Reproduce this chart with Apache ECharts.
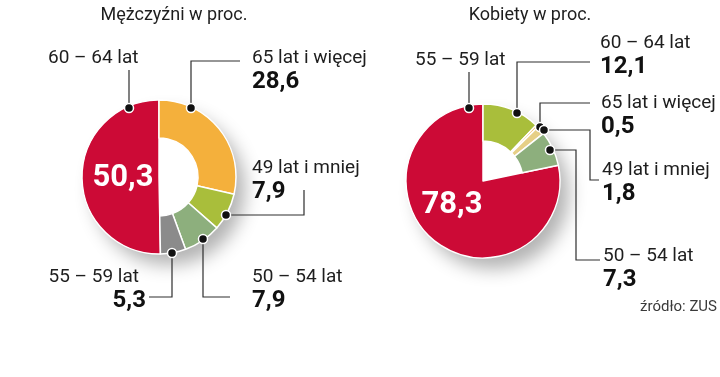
<!DOCTYPE html>
<html>
<head>
<meta charset="utf-8">
<script src="https://cdn.jsdelivr.net/npm/echarts@6/dist/echarts.min.js"></script>
<style>
html, body { margin: 0; padding: 0; background: #fff; }
#chart { width: 720px; height: 377px; }
</style>
</head>
<body>
<div id="chart"></div>
<script>
// dane
var categoriesMen = ['65 lat i więcej', '49 lat i mniej', '50 – 54 lat', '55 – 59 lat', '60 – 64 lat'];
var valuesMen = [28.6, 7.9, 7.9, 5.3, 50.3];
var colorsMen = ['#f4b03c', '#a9be3b', '#8daf7d', '#8b8b8b', '#cc0a36'];

var categoriesWomen = ['60 – 64 lat', '65 lat i więcej', '49 lat i mniej', '50 – 54 lat', '55 – 59 lat'];
var valuesWomen = [12.1, 0.5, 1.8, 7.3, 78.3];
var colorsWomen = ['#a9be3b', '#f4b03c', '#e6cf86', '#8daf7d', '#cc0a36'];

var titleMen = 'Mężczyźni w proc.';
var titleWomen = 'Kobiety w proc.';
var sourceText = 'źródło: ZUS';

// rozmieszczenie
var FONT = 'Roboto, sans-serif';
var R = 77;
var centerMen = [159, 177];
var centerWomen = [483, 181];
var bigIdx = 4;

var labelPosMen = [
    {x: 252, y: 47}, {x: 252, y: 157}, {x: 252, y: 266},
    {x: 146, y: 266, align: 'right'}, {x: 48, y: 47}
];
var guidesMen = [
    [[191, 108], [191, 61], [240, 61]],
    [[226, 215], [304, 215], [304, 190]],
    [[203, 239], [203, 297], [230, 297]],
    [[172, 253], [172, 297], [149, 297]],
    [[129, 108], [129, 70]]
];
var bigPosMen = [123, 178];

var labelPosWomen = [
    {x: 600, y: 32}, {x: 601, y: 92}, {x: 602, y: 159}, {x: 603, y: 245}, {x: 415, y: 49}
];
var guidesWomen = [
    [[517, 113], [517, 62], [590, 62]],
    [[540, 127], [540, 103], [590, 103]],
    [[544, 130], [590, 130], [590, 180], [599, 180]],
    [[550, 150], [576, 150], [576, 260], [600, 260]],
    [[469, 108], [469, 72]]
];
var bigPosWomen = [452, 205];

function fmt(v) {
    return v.toFixed(1).replace('.', ',');
}

function sliceData(names, values, colors, visible) {
    return names.map(function (n, i) {
        var on = visible(i);
        return {
            name: n,
            value: values[i],
            itemStyle: on
                ? {color: colors[i], borderColor: '#fff', borderWidth: 1.5}
                : {color: 'rgba(0,0,0,0)', borderWidth: 0},
            label: {show: true}
        };
    });
}

function ringSeries(names, values, colors, center, inner, labelPos) {
    return {
        type: 'pie',
        center: center,
        radius: [inner, R],
        startAngle: 90,
        avoidLabelOverlap: false,
        silent: true,
        data: sliceData(names, values, colors, function (i) { return i !== bigIdx; }),
        label: {
            show: true,
            position: 'outside',
            fontFamily: FONT,
            formatter: function (p) {
                var key = labelPos[p.dataIndex].align === 'right' ? 'nr' : 'n';
                if (p.dataIndex === bigIdx) return '{' + key + '|' + p.name + '}';
                return '{' + key + '|' + p.name + '}\n{v|' + fmt(p.value) + '}';
            },
            rich: {
                n: {fontFamily: FONT, fontSize: 19, lineHeight: 22, color: '#1e1e1e'},
                nr: {fontFamily: FONT, fontSize: 19, lineHeight: 22, color: '#1e1e1e', padding: [0, 7, 0, 0]},
                v: {fontFamily: FONT, fontSize: 24, fontWeight: 'bold', lineHeight: 26, color: '#111'}
            }
        },
        labelLine: {show: false},
        labelLayout: function (p) {
            var pos = labelPos[p.dataIndex];
            return {x: pos.x, y: pos.y, align: pos.align || 'left', verticalAlign: 'top'};
        }
    };
}

function bigSeries(names, values, colors, center, bigPos) {
    var data = sliceData(names, values, colors, function (i) { return i === bigIdx; });
    data.forEach(function (d, i) { d.label = {show: i === bigIdx}; });
    return {
        type: 'pie',
        center: center,
        radius: [0, R],
        startAngle: 90,
        avoidLabelOverlap: false,
        silent: true,
        data: data,
        label: {
            position: 'inside',
            formatter: function (p) { return fmt(p.value); },
            fontFamily: FONT,
            fontSize: 31,
            fontWeight: 'bold',
            color: '#fff'
        },
        labelLine: {show: false},
        labelLayout: function () {
            return {x: bigPos[0], y: bigPos[1], align: 'center', verticalAlign: 'middle'};
        }
    };
}

function guideElements(guides) {
    var els = [];
    guides.forEach(function (pts) {
        els.push({
            type: 'polyline', z: 100, silent: true,
            shape: {points: pts},
            style: {stroke: '#2e2e2e', lineWidth: 1.2, fill: null}
        });
        els.push({
            type: 'circle', z: 101, silent: true,
            shape: {cx: pts[0][0], cy: pts[0][1], r: 4.5},
            style: {fill: '#111', stroke: '#fff', lineWidth: 1.5}
        });
    });
    return els;
}

function shadowDisc(center) {
    return {
        type: 'circle', z: -10, silent: true,
        shape: {cx: center[0], cy: center[1], r: R - 1},
        style: {
            fill: '#fff',
            shadowBlur: 18,
            shadowColor: 'rgba(0,0,0,0.3)',
            shadowOffsetX: 10,
            shadowOffsetY: 12
        }
    };
}

var chart = echarts.init(document.getElementById('chart'));

var option = {
    animation: false,
    backgroundColor: '#fff',
    graphic: {
        elements: [
            shadowDisc(centerMen),
            shadowDisc(centerWomen),
            {
                type: 'text', silent: true,
                style: {text: titleMen, x: 174, y: 15, align: 'center', verticalAlign: 'middle',
                        font: '18px ' + FONT, fill: '#1e1e1e'}
            },
            {
                type: 'text', silent: true,
                style: {text: titleWomen, x: 530, y: 15, align: 'center', verticalAlign: 'middle',
                        font: '18px ' + FONT, fill: '#1e1e1e'}
            },
            {
                type: 'text', silent: true,
                style: {text: sourceText, x: 717, y: 307, align: 'right', verticalAlign: 'middle',
                        font: '15px ' + FONT, fill: '#3a3a3a'}
            }
        ].concat(guideElements(guidesMen), guideElements(guidesWomen))
    },
    series: [
        bigSeries(categoriesMen, valuesMen, colorsMen, centerMen, bigPosMen),
        ringSeries(categoriesMen, valuesMen, colorsMen, centerMen, 39, labelPosMen),
        bigSeries(categoriesWomen, valuesWomen, colorsWomen, centerWomen, bigPosWomen),
        ringSeries(categoriesWomen, valuesWomen, colorsWomen, centerWomen, 40, labelPosWomen)
    ]
};

chart.setOption(option);
</script>
</body>
</html>
